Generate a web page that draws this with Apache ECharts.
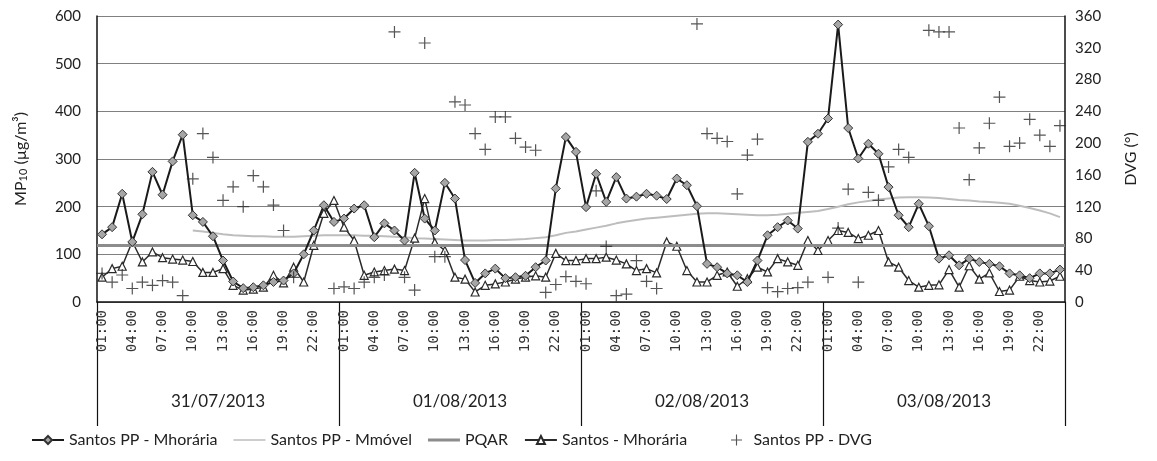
<!DOCTYPE html>
<html>
<head>
<meta charset="utf-8">
<script src="https://cdn.jsdelivr.net/npm/echarts@6/dist/echarts.min.js"></script>
<style>
  html, body { margin: 0; padding: 0; background: #fff; }
  #chart { width: 1157px; height: 461px; }
</style>
</head>
<body>
<div id="chart"></div>
<script>
// Days and hours of the campaign
const DAYS = ['31/07/2013', '01/08/2013', '02/08/2013', '03/08/2013'];
const HOURS = ['01:00', '02:00', '03:00', '04:00', '05:00', '06:00', '07:00', '08:00',
  '09:00', '10:00', '11:00', '12:00', '13:00', '14:00', '15:00', '16:00',
  '17:00', '18:00', '19:00', '20:00', '21:00', '22:00', '23:00', '00:00'];

// MP10 hourly means, Santos PP (µg/m³)
const PP_HORARIA = [
  142, 157, 227, 126, 184, 273, 225, 295, 351, 182, 168, 138, 87, 43, 29, 31, 35, 42, 45, 60, 100, 150, 203, 168,
  175, 196, 203, 136, 165, 150, 129, 271, 175, 150, 250, 217, 88, 40, 60, 70, 50, 52, 55, 73, 87, 238, 346, 315,
  199, 269, 210, 262, 217, 221, 227, 223, 216, 259, 245, 201, 80, 73, 60, 56, 42, 87, 140, 157, 171, 154, 336, 353,
  385, 582, 365, 301, 332, 311, 241, 182, 157, 206, 159, 91, 98, 77, 91, 84, 80, 75, 60, 56, 50, 60, 60, 68
];

// MP10 moving average, Santos PP (µg/m³)
const PP_MOVEL = [
  null, null, null, null, null, null, null, null, null, 150, 148, 145, 142, 140, 139, 138, 138, 137, 137, 137, 138, 139, 140, 140,
  140, 140, 139, 139, 138, 137, 136, 134, 133, 132, 131, 130, 129, 129, 129, 130, 130, 131, 132, 134, 136, 140, 145, 148,
  152, 156, 160, 165, 169, 172, 175, 177, 179, 181, 183, 185, 186, 186, 185, 184, 183, 182, 182, 183, 185, 187, 189, 191,
  195, 200, 205, 209, 212, 215, 217, 219, 220, 220, 219, 218, 216, 214, 213, 211, 210, 208, 206, 202, 197, 192, 186, 178
];

// MP10 hourly means, Santos station (µg/m³)
const SANTOS_HORARIA = [
  52, 70, 75, 127, 84, 105, 93, 90, 88, 85, 62, 62, 70, 35, 25, 27, 31, 56, 40, 73, 42, 119, 186, 213,
  157, 129, 56, 63, 66, 69, 66, 134, 217, 125, 108, 52, 48, 21, 35, 38, 42, 48, 52, 55, 52, 102, 87, 87,
  91, 91, 94, 88, 80, 66, 70, 61, 126, 117, 66, 42, 42, 56, 63, 33, 49, 73, 63, 91, 84, 77, 129, 108,
  129, 150, 146, 133, 140, 150, 84, 73, 45, 31, 35, 36, 68, 31, 76, 48, 61, 22, 25, 54, 45, 42, 44, 54
];

// Wind direction, Santos PP (degrees)
const PP_DVG = [
  36, 25, 34, 17, 25, 21, 27, 25, 8, 155, 212, 182, 128, 145, 120, 159, 145, 122, 90, 31, null, null, null, 17,
  19, 17, 25, 31, 34, 340, 31, 15, 326, 57, 57, 252, 248, 212, 192, 233, 233, 206, 195, 191, 12, 22, 32, 26,
  23, 140, 70, 8, 10, 52, 26, 17, null, null, null, 350, 212, 206, 202, 136, 185, 205, 18, 13, 17, 18, 25, null,
  31, 93, 142, 25, 138, 128, 170, 192, 182, null, 342, 340, 340, 219, 154, 194, 225, 258, 196, 200, 230, 210, 196, 222
];

// Air quality standard (µg/m³)
const PQAR_LIMIT = 120;

const LEFT_TICKS = { min: 0, max: 600, interval: 100 };
const RIGHT_TICKS = { min: 0, max: 360, interval: 40 };

const categories = [];
DAYS.forEach(d => HOURS.forEach(h => categories.push(d + ' ' + h)));

const FONT = 'Lato, "Open Sans", sans-serif';
const PLUS = 'path://M-0.6,-6 L0.6,-6 L0.6,-0.6 L6,-0.6 L6,0.6 L0.6,0.6 L0.6,6 L-0.6,6 L-0.6,0.6 L-6,0.6 L-6,-0.6 L-0.6,-0.6 Z';
const THIN_LINE = 'path://M0,0 L40,0 L40,1.6 L0,1.6 Z';
const THICK_LINE = 'path://M0,0 L40,0 L40,3.6 L0,3.6 Z';

const legendText = { fontFamily: FONT, fontSize: 16, color: '#222' };

const chart = echarts.init(document.getElementById('chart'), null, { renderer: 'canvas' });

chart.setOption({
  animation: false,
  backgroundColor: '#ffffff',
  textStyle: { fontFamily: FONT, color: '#222' },
  grid: { left: 97, right: 92, top: 16, bottom: 159, containLabel: false },
  legend: [
    {
      bottom: 8,
      left: 26,
      itemWidth: 32,
      itemHeight: 10,
      itemGap: 16,
      textStyle: legendText,
      data: [
        { name: 'Santos PP - Mhorária' },
        { name: 'Santos PP - Mmóvel', icon: THIN_LINE, itemStyle: { color: '#bdbdbd' } },
        { name: 'PQAR', icon: THICK_LINE, itemStyle: { color: '#8c8c8c' } },
        { name: 'Santos - Mhorária' }
      ]
    },
    {
      bottom: 8,
      left: 726,
      itemWidth: 24,
      itemHeight: 11,
      textStyle: legendText,
      data: [{ name: 'Santos PP - DVG' }]
    }
  ],
  xAxis: [
    {
      type: 'category',
      data: categories,
      boundaryGap: true,
      axisLine: { show: true, lineStyle: { color: '#111', width: 1.5 } },
      axisTick: { show: false },
      axisLabel: {
        interval: 2,
        rotate: 90,
        margin: 8,
        fontFamily: '"DejaVu Sans Mono", monospace',
        fontSize: 14,
        color: '#333',
        formatter: v => v.slice(-5)
      },
      splitLine: { show: false }
    },
    {
      type: 'category',
      data: DAYS,
      position: 'bottom',
      boundaryGap: true,
      axisLine: { show: false },
      axisTick: { show: true, interval: 0, length: 124, lineStyle: { color: '#111', width: 1.2 } },
      axisLabel: { interval: 0, margin: 91, fontFamily: FONT, fontSize: 17, color: '#222' },
      splitLine: { show: false }
    }
  ],
  yAxis: [
    {
      type: 'value',
      min: LEFT_TICKS.min, max: LEFT_TICKS.max, interval: LEFT_TICKS.interval,
      name: '{a|MP}{s|10}{a| (µg/m³)}',
      nameLocation: 'middle',
      nameRotate: 90,
      nameGap: 68,
      nameTextStyle: {
        rich: {
          a: { fontFamily: FONT, fontSize: 16, color: '#222' },
          s: { fontFamily: FONT, fontSize: 11, color: '#222', verticalAlign: 'bottom', padding: [6, 0, 0, 0] }
        }
      },
      axisLine: { show: true, lineStyle: { color: '#111', width: 1.5 } },
      axisTick: { show: false },
      axisLabel: { margin: 16, fontFamily: FONT, fontSize: 15, color: '#222' },
      splitLine: { show: true, lineStyle: { color: '#808080', width: 1 } }
    },
    {
      type: 'value',
      min: RIGHT_TICKS.min, max: RIGHT_TICKS.max, interval: RIGHT_TICKS.interval,
      name: 'DVG (°)',
      nameLocation: 'middle',
      nameRotate: 90,
      nameGap: 58,
      nameTextStyle: { fontFamily: FONT, fontSize: 16, color: '#222' },
      axisLine: { show: true, lineStyle: { color: '#111', width: 1.5 } },
      axisTick: { show: false },
      axisLabel: { margin: 10, fontFamily: FONT, fontSize: 15, color: '#222' },
      splitLine: { show: false }
    }
  ],
  series: [
    {
      name: 'Santos PP - Mmóvel',
      type: 'line',
      data: PP_MOVEL,
      symbol: 'none',
      lineStyle: { color: '#bdbdbd', width: 2 },
      itemStyle: { color: '#bdbdbd' },
      z: 2
    },
    {
      name: 'PQAR',
      type: 'line',
      data: [],
      symbol: 'none',
      lineStyle: { color: '#8c8c8c', width: 3 },
      itemStyle: { color: '#8c8c8c' },
      markLine: {
        silent: true,
        symbol: 'none',
        label: { show: false },
        lineStyle: { color: '#8c8c8c', width: 3, type: 'solid' },
        data: [{ yAxis: PQAR_LIMIT }]
      },
      z: 3
    },
    {
      name: 'Santos - Mhorária',
      type: 'line',
      data: SANTOS_HORARIA,
      symbol: 'triangle',
      symbolSize: 8,
      showAllSymbol: true,
      lineStyle: { color: '#2a2a2a', width: 1.5 },
      itemStyle: { color: '#ffffff', borderColor: '#2a2a2a', borderWidth: 1.2 },
      z: 4
    },
    {
      name: 'Santos PP - Mhorária',
      type: 'line',
      data: PP_HORARIA,
      symbol: 'diamond',
      symbolSize: 9,
      showAllSymbol: true,
      lineStyle: { color: '#1a1a1a', width: 2 },
      itemStyle: { color: '#a6a6a6', borderColor: '#333', borderWidth: 1 },
      z: 5
    },
    {
      name: 'Santos PP - DVG',
      type: 'scatter',
      yAxisIndex: 1,
      data: PP_DVG,
      symbol: PLUS,
      symbolSize: 12,
      itemStyle: { color: '#2a2a2a' },
      z: 6
    }
  ]
});
</script>
</body>
</html>
